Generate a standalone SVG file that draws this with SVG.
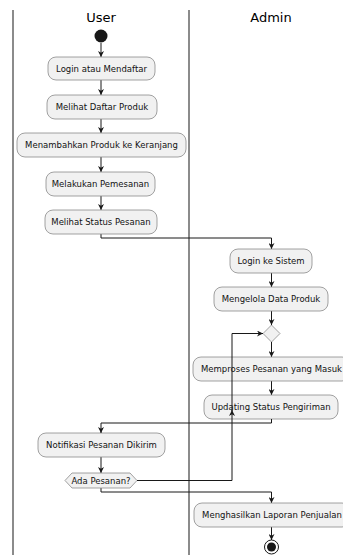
<svg xmlns="http://www.w3.org/2000/svg" width="343" height="555" viewBox="0 0 343 555">
<defs>
<style>
.lane{stroke:#5a5a5a;stroke-width:1.4;fill:none}
.title{font-family:"DejaVu Sans",sans-serif;font-size:13px;fill:#000;text-anchor:middle}
.box{fill:#F1F1F1;stroke:#8a8a8a;stroke-width:0.8}
.t{font-family:"DejaVu Sans",sans-serif;font-size:8.5px;fill:#111;text-anchor:middle}
.c{fill:none;stroke:#181818;stroke-width:1;marker-end:url(#ah)}
</style>
<marker id="ah" viewBox="0 0 10 10" refX="10" refY="5" markerWidth="6" markerHeight="6" markerUnits="userSpaceOnUse" orient="auto">
<path d="M0,0 L10,5 L0,10 L3,5 Z" fill="#181818"/>
</marker>
</defs>
<rect width="343" height="555" fill="#fff"/>
<g id="lanes">
<line class="lane" x1="13" y1="10" x2="13" y2="555"/>
<line class="lane" x1="189" y1="10" x2="189" y2="555"/>
<text class="title" x="101" y="22">User</text>
<text class="title" x="271" y="22">Admin</text>
</g>
<g id="connectors">
<path class="c" d="M101,43 V57"/>
<path class="c" d="M101,80 V95"/>
<path class="c" d="M101,119 V133"/>
<path class="c" d="M101,157 V172"/>
<path class="c" d="M101,196 V210"/>
<path class="c" d="M101,234 V238 H271.5 V249"/>
<path class="c" d="M271.5,273 V287"/>
<path class="c" d="M271.5,311 V325"/>
<path class="c" d="M271.5,342 V357"/>
<path class="c" d="M271.5,381 V395"/>
<path class="c" d="M101,457 V473"/>
<path class="c" d="M101,488 V492 H271.5 V503"/>
<path class="c" d="M271.5,527 V540"/>
</g>
<g id="start"><circle cx="101" cy="36" r="6.5" fill="#181818"/></g>
<g id="n1"><rect class="box" x="48" y="57" width="107" height="23" rx="8"/><text class="t" x="101.5" y="71.5">Login atau Mendaftar</text></g>
<g id="n2"><rect class="box" x="47" y="95" width="110" height="24" rx="8"/><text class="t" x="102" y="110">Melihat Daftar Produk</text></g>
<g id="n3"><rect class="box" x="17" y="133" width="169" height="24" rx="8"/><text class="t" x="101.5" y="148">Menambahkan Produk ke Keranjang</text></g>
<g id="n4"><rect class="box" x="46" y="172" width="109" height="24" rx="8"/><text class="t" x="100.5" y="187">Melakukan Pemesanan</text></g>
<g id="n5"><rect class="box" x="45" y="210" width="112" height="24" rx="8"/><text class="t" x="101" y="225">Melihat Status Pesanan</text></g>
<g id="n6"><rect class="box" x="230" y="249" width="82" height="24" rx="8"/><text class="t" x="271" y="264">Login ke Sistem</text></g>
<g id="n7"><rect class="box" x="214" y="287" width="114" height="24" rx="8"/><text class="t" x="271" y="302">Mengelola Data Produk</text></g>
<g id="merge"><polygon class="box" points="271.5,325 280,333.5 271.5,342 263,333.5"/></g>
<g id="n8"><rect class="box" x="193" y="357" width="157" height="24" rx="8"/><text class="t" x="271.5" y="372">Memproses Pesanan yang Masuk</text></g>
<g id="n9"><rect class="box" x="204" y="395" width="134" height="24" rx="8"/><text class="t" x="271" y="410">Updating Status Pengiriman</text></g>
<g id="n10"><rect class="box" x="38" y="433" width="127" height="24" rx="8"/><text class="t" x="101.5" y="448">Notifikasi Pesanan Dikirim</text></g>
<g id="decision"><polygon class="box" points="65,480.5 72,473 130,473 137,480.5 130,488 72,488"/><text class="t" x="101" y="483.5">Ada Pesanan?</text></g>
<g id="n11"><rect class="box" x="194" y="503" width="156" height="24" rx="8"/><text class="t" x="272" y="518">Menghasilkan Laporan Penjualan</text></g>
<g id="end"><circle cx="271.5" cy="547" r="7" fill="none" stroke="#181818" stroke-width="1"/><circle cx="271.5" cy="547" r="4.5" fill="#181818"/></g>
<g id="connectors-over">
<path class="c" d="M271.5,419 V423 H101 V433"/>
<path class="c" d="M137,480.5 H232 V410"/>
<path class="c" d="M232,411 V333.5 H263"/>
</g>
</svg>
